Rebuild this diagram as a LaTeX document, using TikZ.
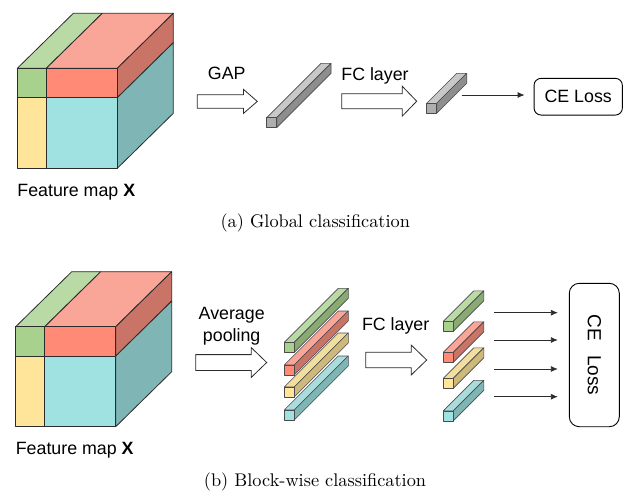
\documentclass[tikz,border=0pt]{standalone}
\usepackage{fontspec}
\setsansfont{Liberation Sans}
\newfontfamily\fmcapfont{lmroman10-regular.otf}
\usepackage{xcolor}
\definecolor{fmink}{HTML}{2B2B2B}
\definecolor{fmgreen}{HTML}{A9D18E}
\definecolor{fmgreentop}{HTML}{B9D9A5}
\definecolor{fmgreenside}{HTML}{8AAA74}
\definecolor{fmred}{HTML}{FF8B77}
\definecolor{fmredtop}{HTML}{F9A597}
\definecolor{fmredside}{HTML}{C97466}
\definecolor{fmyellow}{HTML}{FFE59A}
\definecolor{fmyellowtop}{HTML}{F2DE9F}
\definecolor{fmyellowside}{HTML}{CDB97B}
\definecolor{fmcyan}{HTML}{A0E2E2}
\definecolor{fmcyantop}{HTML}{AADCDC}
\definecolor{fmcyanside}{HTML}{7FB5B5}
\definecolor{fmgray}{HTML}{AEAEAE}
\definecolor{fmgraytop}{HTML}{C8C8C8}
\definecolor{fmgrayside}{HTML}{8E8E8E}
\usepackage{tikz}
\usetikzlibrary{arrows.meta,shapes.arrows}
\tikzset{
  fmface/.style   ={draw=fmink, line width=0.8pt, line join=round},
  fmbarface/.style={draw=fmink!85, line width=0.6pt, line join=round},
  fmlbl/.style    ={font=\sffamily\fontsize{17.8}{22.4}\selectfont, text=black,
                    align=center, inner sep=0pt},
  fmcap/.style    ={font=\fmcapfont\fontsize{18.3}{22}\selectfont, text=black, inner sep=0pt},
  fmhollow/.style ={single arrow, draw=fmink, fill=white, line width=0.8pt,
                    inner xsep=0pt, outer sep=0pt, anchor=tail},
  fmloss/.style   ={rectangle, draw=black, fill=white, line width=0.9pt, inner sep=0pt,
                    font=\sffamily\fontsize{17.8}{21}\selectfont},
  fmthin/.style   ={-{Latex[length=7pt,width=6pt]}, line width=0.8pt, draw=fmink},
}
\newcommand{\fmbar}[4]{%
  \draw[fmbarface, fill=#4top]  (#1,#2-10) -- ++(#3,-#3) -- ++(10,0) -- ++(-#3,#3) -- cycle;
  \draw[fmbarface, fill=#4side] (#1+10,#2-10) -- ++(#3,-#3) -- ++(0,10) -- ++(-#3,#3) -- cycle;
  \draw[fmbarface, fill=#4]     (#1,#2) rectangle ++(10,-10);}

\begin{document}
\begin{tikzpicture}[x=1pt, y=-1pt]
  \useasboundingbox (0,0) rectangle (640,496);
  \foreach \sx/\sy/\s in {17.3/168.3/a, 15.7/426.7/b}{
    \begin{scope}[shift={(\sx,\sy)}]
      \draw[fmface, fill=fmgreentop] (0,-100) -- (29,-100) -- ++(56,-55) -- ++(-29,0) -- cycle;
      \draw[fmface, fill=fmredtop]   (29,-100) -- (100,-100) -- ++(56,-55) -- ++(-71,0) -- cycle;
      \draw[fmface, fill=fmredside]  (100,-100) -- ++(56,-55) -- ++(0,29.4) -- ++(-56,55) -- cycle;
      \draw[fmface, fill=fmcyanside] (100,-70.6) -- ++(56,-55) -- ++(0,70.6) -- ++(-56,55) -- cycle;
      \draw[fmface, fill=fmgreen]  (0,-100) rectangle (29,-70.6);
      \draw[fmface, fill=fmred]    (29,-100) rectangle (100,-70.6);
      \draw[fmface, fill=fmyellow] (0,-70.6) rectangle (29,0);
      \draw[fmface, fill=fmcyan]   (29,-70.6) rectangle (100,0);
      \node[fmlbl, anchor=base] (fmap\s) at (59,28) {Feature map \textbf{X}};
    \end{scope}}

  \node[fmlbl, anchor=base] (gap) at (226.7,79.3) {GAP};
  \node[fmhollow, minimum height=60, inner ysep=6.35, single arrow head extend=5.3,
        single arrow tip angle=82] (gaparrow) at (197.3,101.4) {};
  \fmbar{266.7}{127.7}{54.3}{fmgray}
  \node[fmlbl, anchor=base] (fca) at (375,80) {FC layer};
  \node[fmhollow, minimum height=75, inner ysep=7.15, single arrow head extend=7.5,
        single arrow tip angle=92] (fcarrowa) at (341.7,101.2) {};
  \fmbar{426.7}{113.3}{30}{fmgray}
  \node[fmloss, rounded corners=7pt, minimum width=88.3, minimum height=36.7]
        (lossa) at (578.2,96.7) {CE Loss};
  \coordinate (tia) at (461.7,95);
  \draw[fmthin, shorten >=9pt] (tia) -- (tia -| lossa.west);
  \node[fmcap, anchor=base] (capa) at (315.3,227.3) {(a) Global classification};

  \node[fmlbl, anchor=north] (avgpool) at (231.7,306.7) {Average\\pooling};
  \node[fmhollow, minimum height=71, inner ysep=7.5, single arrow head extend=7,
        single arrow tip angle=88] (poolarrow) at (195.7,362.5) {};
  \foreach \yb/\cl in {352.3/fmgreen, 375/fmred, 397/fmyellow, 420/fmcyan}{\fmbar{284.3}{\yb}{54}{\cl}}
  \node[fmlbl, anchor=base] (fcb) at (395.7,330) {FC layer};
  \node[fmhollow, minimum height=61, inner ysep=7.3, single arrow head extend=7.3,
        single arrow tip angle=88] (fcarrowb) at (365.7,360) {};
  \foreach \yb/\cl in {331.3/fmgreen, 362.3/fmred, 388.3/fmyellow, 420.8/fmcyan}{\fmbar{443.3}{\yb}{30.5}{\cl}}
  \node[fmloss, rounded corners=10pt, minimum width=50, minimum height=143.4]
        (lossb) at (594.3,355) {};
  \node[fmloss, draw=none, fill=none, rotate=-90, font=\sffamily\fontsize{19}{22}\selectfont]
        (lossbtxt) at (lossb.center) {CE\hspace{0.75em}Loss};
  \foreach \yy [count=\i] in {312.7,340,369,396.7}{
    \coordinate (tib\i) at (494,\yy);
    \draw[fmthin, shorten >=11pt] (tib\i) -- (tib\i -| lossb.west);}
  \node[fmcap, anchor=base] (capb) at (315,486) {(b) Block-wise classification};
\end{tikzpicture}
\end{document}
